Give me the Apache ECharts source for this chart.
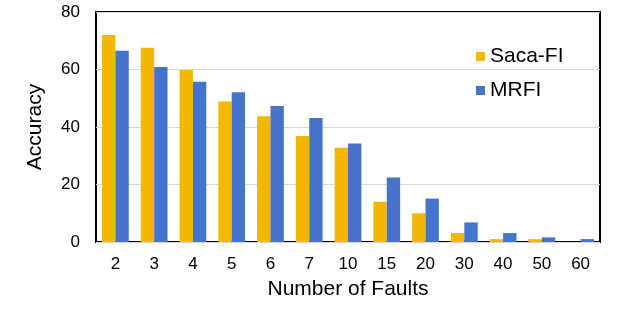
<!DOCTYPE html>
<html>
<head>
<meta charset="utf-8">
<script src="https://cdn.jsdelivr.net/npm/echarts@6/dist/echarts.min.js"></script>
<style>html,body{margin:0;padding:0;background:#fff}#c{width:623px;height:311px}</style>
</head>
<body>
<div id="c"></div>
<script>
var categories = ['2','3','4','5','6','7','10','15','20','30','40','50','60'];
var sacaFI = [72, 67.6, 59.8, 48.9, 43.7, 36.9, 32.8, 14.0, 10.0, 3.1, 1.0, 1.0, 0];
var mrfi = [66.5, 60.9, 55.7, 52.1, 47.3, 43.1, 34.3, 22.4, 15.1, 6.8, 3.1, 1.6, 1.0];
var yTicks = [0, 20, 40, 60, 80];

var chart = echarts.init(document.getElementById('c'), null, {renderer: 'canvas'});
var font = 'Liberation Sans, Arial, sans-serif';
chart.setOption({
  animation: false,
  textStyle: {fontFamily: font},
  grid: {left: 96, right: 23, top: 12, bottom: 69, show: true, borderColor: '#000', borderWidth: 2, backgroundColor: 'transparent'},
  legend: {
    orient: 'vertical', left: 471, top: 41, itemWidth: 9, itemHeight: 9, itemGap: 13,
    icon: 'rect',
    textStyle: {fontSize: 21, color: '#000', fontFamily: font, padding: [0,0,0,0]},
    data: ['Saca-FI', 'MRFI']
  },
  xAxis: {
    type: 'category', data: categories,
    axisLine: {show: false}, axisTick: {show: false},
    axisLabel: {fontSize: 17, color: '#000', margin: 14},
    name: 'Number of Faults', nameLocation: 'middle', nameGap: 37,
    nameTextStyle: {fontSize: 21, color: '#000'}
  },
  yAxis: {
    type: 'value', min: yTicks[0], max: yTicks[yTicks.length-1], interval: 20,
    axisLine: {show: false}, axisTick: {show: false},
    axisLabel: {fontSize: 17, color: '#000', margin: 16},
    splitLine: {lineStyle: {color: '#d9d9d9', width: 1}},
    name: 'Accuracy', nameLocation: 'middle', nameGap: 50,
    nameTextStyle: {fontSize: 21, color: '#000'}
  },
  series: [
    {name: 'Saca-FI', type: 'bar', data: sacaFI, itemStyle: {color: '#F2B800'}, barGap: '0%', barCategoryGap: '31%'},
    {name: 'MRFI', type: 'bar', data: mrfi, itemStyle: {color: '#4674CB'}, barGap: '0%', barCategoryGap: '31%'}
  ]
});
</script>
</body>
</html>
